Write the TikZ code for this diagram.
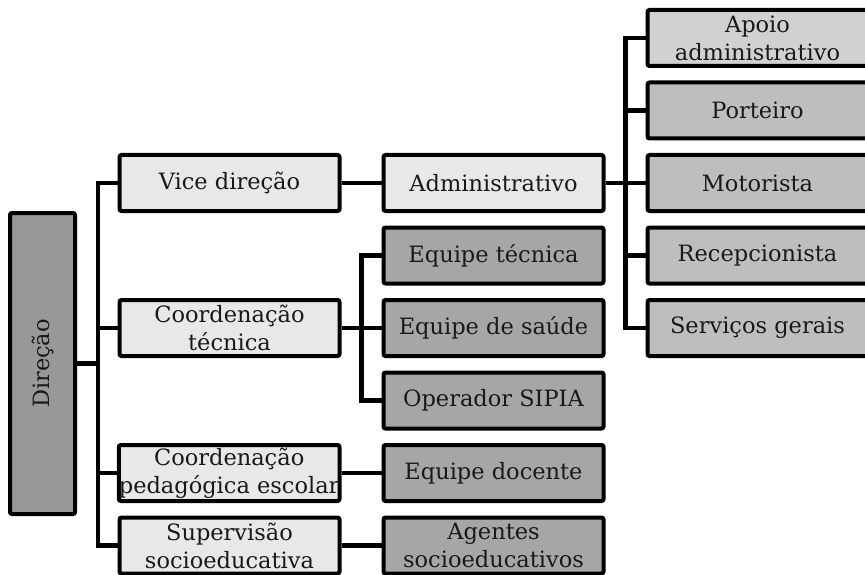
\documentclass[tikz,border=0pt]{standalone}
\usepackage{fontspec}
\setmainfont{DejaVu Serif}
\usetikzlibrary{positioning}

\definecolor{boxlight}{RGB}{232,232,234}
\definecolor{boxapoio}{RGB}{209,209,211}
\definecolor{boxmid}{RGB}{190,190,192}
\definecolor{boxdark}{RGB}{166,166,168}
\definecolor{boxdir}{RGB}{152,152,155}

\begin{document}
\begin{tikzpicture}[
        x=1pt, y=-1pt,
        block/.style={
            rectangle,
            draw,
            line width=4pt,
            rounded corners=2pt,
            minimum width=220pt,
            minimum height=56pt,
            inner sep=0pt,
            align=center,
            text=black!90,
            font=\fontsize{22.5}{28}\selectfont
        },
        link/.style={line width=4.5pt},
        node distance=12.5pt and 40pt
    ]
        \useasboundingbox (0,0) rectangle (865,575);

        % Direction box
        \node[block, fill=boxdir, minimum width=65pt, minimum height=301pt] (dir) at (42.5, 363.5) {\rotatebox{90}{Direção}};

        % Middle column
        \node[block, fill=boxlight] (admin) at (493.5, 183) {Administrativo};
        \node[block, fill=boxdark, below=of admin] (eqtec) {Equipe técnica};
        \node[block, fill=boxdark, below=of eqtec] (eqsaude) {Equipe de saúde};
        \node[block, fill=boxdark, below=of eqsaude] (sipia) {Operador SIPIA};
        \node[block, fill=boxdark, below=of sipia] (docente) {Equipe docente};
        \node[block, fill=boxdark, below=of docente] (agentes) {Agentes\\socioeducativos};

        % Left column
        \node[block, fill=boxlight, left=of admin] (vice) {Vice direção};
        \node[block, fill=boxlight, left=of eqsaude] (coordtec) {Coordenação\\técnica};
        \node[block, fill=boxlight, left=of docente] (coordped) {Coordenação\\pedagógica escolar};
        \node[block, fill=boxlight, left=of agentes] (superv) {Supervisão\\socioeducativa};

        % Right column
        \node[block, fill=boxmid, right=of admin] (motorista) {Motorista};
        \node[block, fill=boxmid, above=of motorista] (porteiro) {Porteiro};
        \node[block, fill=boxapoio, above=of porteiro] (apoio) {Apoio\\administrativo};
        \node[block, fill=boxmid, below=of motorista] (recep) {Recepcionista};
        \node[block, fill=boxmid, below=of recep] (servicos) {Serviços gerais};

        % Connectors
        \foreach \child in {vice, coordtec, coordped, superv}
            \draw[link] (dir.east) -- ++(21,0) |- (\child.west);
        \foreach \child in {eqtec, eqsaude, sipia}
            \draw[link] (coordtec.east) -- ++(20,0) |- (\child.west);
        \foreach \child in {apoio, porteiro, motorista, recep, servicos}
            \draw[link] (admin.east) -- ++(20,0) |- (\child.west);
        \draw[link] (vice.east) -- (admin.west);
        \draw[link] (coordped.east) -- (docente.west);
        \draw[link] (superv.east) -- (agentes.west);

    \end{tikzpicture}
\end{document}
